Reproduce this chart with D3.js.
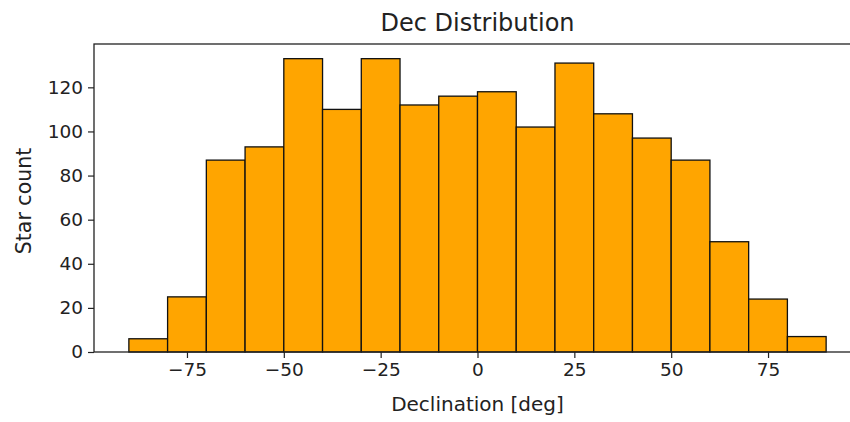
<!DOCTYPE html>
<html><head><meta charset="utf-8">
<script src="https://cdn.jsdelivr.net/npm/d3@7"></script>
<style>body{margin:0;background:#fff}svg{display:block}text{font-family:"DejaVu Sans",sans-serif;fill:#222}</style>
</head><body><svg id="c" width="850" height="422"></svg>
<script>
const binEdges = [-90,-80,-70,-60,-50,-40,-30,-20,-10,0,10,20,30,40,50,60,70,80,90];
const counts = [6,25,87,93,133,110,133,112,116,118,102,131,108,97,87,50,24,7];
const xTicks = [-75,-50,-25,0,25,50,75];
const yTicks = [0,20,40,60,80,100,120];
const titleText = "Dec Distribution";
const xLabel = "Declination [deg]";
const yLabel = "Star count";

const svg = d3.select("#c");
const m = {l:94, r:861, t:44, b:352};
const x = d3.scaleLinear().domain([-99,99]).range([m.l,m.r]);
const yMax = d3.max(counts)*1.05;
const y = d3.scaleLinear().domain([0,yMax]).range([m.b,m.t]);

const bins = counts.map((c,i)=>({x0:binEdges[i],x1:binEdges[i+1],c}));
svg.append("g").selectAll("rect").data(bins).join("rect")
  .attr("x",d=>x(d.x0)).attr("width",d=>x(d.x1)-x(d.x0))
  .attr("y",d=>y(d.c)).attr("height",d=>y(0)-y(d.c))
  .attr("fill","#FFA500").attr("stroke","#111").attr("stroke-width",1.3);

svg.append("rect").attr("x",m.l).attr("y",m.t).attr("width",m.r-m.l).attr("height",m.b-m.t)
  .attr("fill","none").attr("stroke","#222").attr("stroke-width",1.3);

const fmt = d=>d<0?"\u2212"+Math.abs(d):String(d);
const xa = svg.append("g").attr("transform",`translate(0,${m.b})`)
  .call(d3.axisBottom(x).tickValues(xTicks).tickFormat(fmt).tickSize(6).tickPadding(5));
const ya = svg.append("g").attr("transform",`translate(${m.l},0)`)
  .call(d3.axisLeft(y).tickValues(yTicks).tickSize(6).tickPadding(5));
[xa,ya].forEach(a=>{a.select(".domain").remove();a.selectAll("line").attr("stroke","#222").attr("stroke-width",1.2);
  a.selectAll("text").style("font-family","DejaVu Sans").style("font-size","18.5px").attr("fill","#222");});

svg.append("text").attr("x",(m.l+m.r)/2).attr("y",31).attr("text-anchor","middle")
  .style("font-size","24px").text(titleText);
svg.append("text").attr("x",(m.l+m.r)/2).attr("y",411).attr("text-anchor","middle")
  .style("font-size","20px").text(xLabel);
svg.append("text").attr("transform",`translate(31,${201}) rotate(-90)`).attr("text-anchor","middle")
  .style("font-size","20.5px").text(yLabel);
</script></body></html>
